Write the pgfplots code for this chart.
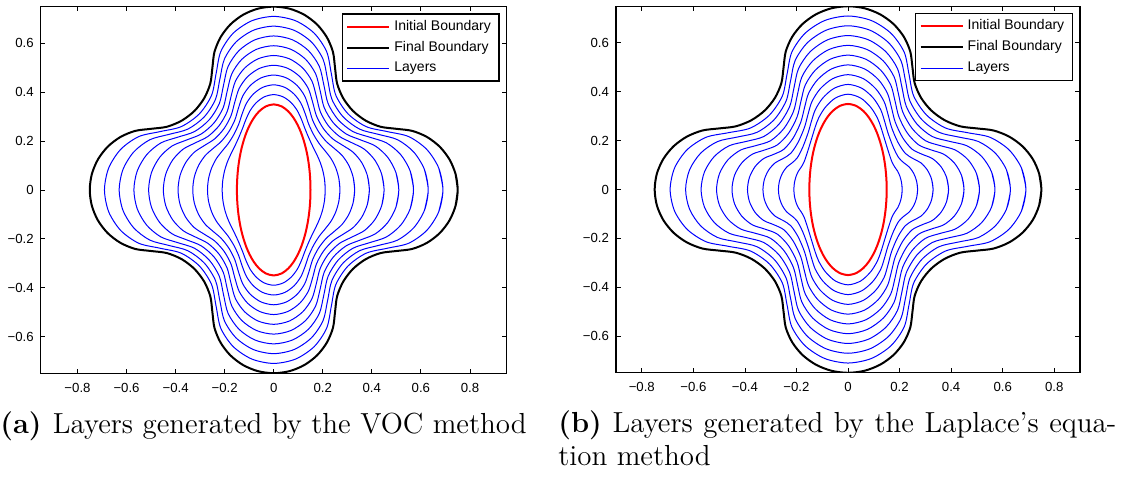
\documentclass[border=0pt]{standalone}
\usepackage{fontspec}
\usepackage{pgfplots}
\usepackage{pgfplotstable}
\pgfplotsset{compat=1.18}
\newfontfamily\arial{Liberation Sans}

% Closed curves start one point before and end one point after the point (x,0),
% so that the smooth path has no corner where it closes.

% Initial boundary: ellipse with semi-axes 0.15 and 0.35
\pgfplotstableread{
ex ey
0.1493 -0.0341
0.15 0
0.1493 0.0341
0.1471 0.0683
0.1435 0.1020
0.1383 0.1356
0.1314 0.1690
0.1224 0.2022
0.1115 0.2343
0.0979 0.2652
0.0807 0.2951
0.0597 0.3211
0.0327 0.3416
0 0.35
-0.0327 0.3416
-0.0597 0.3211
-0.0807 0.2951
-0.0979 0.2652
-0.1115 0.2343
-0.1224 0.2022
-0.1314 0.1690
-0.1383 0.1356
-0.1435 0.1020
-0.1471 0.0683
-0.1493 0.0341
-0.15 0
-0.1493 -0.0341
-0.1471 -0.0683
-0.1435 -0.1020
-0.1383 -0.1356
-0.1314 -0.1690
-0.1224 -0.2022
-0.1115 -0.2343
-0.0979 -0.2652
-0.0807 -0.2951
-0.0597 -0.3211
-0.0327 -0.3416
0 -0.35
0.0327 -0.3416
0.0597 -0.3211
0.0807 -0.2951
0.0979 -0.2652
0.1115 -0.2343
0.1224 -0.2022
0.1314 -0.1690
0.1383 -0.1356
0.1435 -0.1020
0.1471 -0.0683
0.1493 -0.0341
0.15 0
0.1493 0.0341
}\initialb

% Final boundary: four lobes of radius 0.25 joined by concave arcs
\pgfplotstableread{
fx fy
0.7415 -0.0647
0.75 0
0.7415 0.0647
0.7165 0.125
0.6768 0.1768
0.625 0.2165
0.5647 0.2415
0.5 0.25
0.4353 0.2585
0.375 0.2835
0.3232 0.3232
0.2835 0.375
0.2585 0.4353
0.25 0.5
0.2415 0.5647
0.2165 0.625
0.1768 0.6768
0.125 0.7165
0.0647 0.7415
0 0.75
-0.0647 0.7415
-0.125 0.7165
-0.1768 0.6768
-0.2165 0.625
-0.2415 0.5647
-0.25 0.5
-0.2585 0.4353
-0.2835 0.375
-0.3232 0.3232
-0.375 0.2835
-0.4353 0.2585
-0.5 0.25
-0.5647 0.2415
-0.625 0.2165
-0.6768 0.1768
-0.7165 0.125
-0.7415 0.0647
-0.75 0
-0.7415 -0.0647
-0.7165 -0.125
-0.6768 -0.1768
-0.625 -0.2165
-0.5647 -0.2415
-0.5 -0.25
-0.4353 -0.2585
-0.375 -0.2835
-0.3232 -0.3232
-0.2835 -0.375
-0.2585 -0.4353
-0.25 -0.5
-0.2415 -0.5647
-0.2165 -0.625
-0.1768 -0.6768
-0.125 -0.7165
-0.0647 -0.7415
0 -0.75
0.0647 -0.7415
0.125 -0.7165
0.1768 -0.6768
0.2165 -0.625
0.2415 -0.5647
0.25 -0.5
0.2585 -0.4353
0.2835 -0.375
0.3232 -0.3232
0.375 -0.2835
0.4353 -0.2585
0.5 -0.25
0.5647 -0.2415
0.625 -0.2165
0.6768 -0.1768
0.7165 -0.125
0.7415 -0.0647
0.75 0
0.7415 0.0647
}\finalb

% Nine layers of the VOC method: x1..x9, then y1..y9
\pgfplotstableread{
x1 x2 x3 x4 x5 x6 x7 x8 x9 y1 y2 y3 y4 y5 y6 y7 y8 y9
0.2075 0.2656 0.3238 0.3820 0.4401 0.4983 0.5565 0.6146 0.6728 -0.0403 -0.0464 -0.0526 -0.0587 -0.0649 -0.0710 -0.0772 -0.0834 -0.0895
0.21 0.27 0.33 0.39 0.45 0.51 0.57 0.63 0.69 0 0 0 0 0 0 0 0 0
0.2075 0.2656 0.3238 0.3820 0.4401 0.4983 0.5565 0.6146 0.6728 0.0403 0.0464 0.0526 0.0587 0.0649 0.0710 0.0772 0.0834 0.0895
0.2001 0.2530 0.3060 0.3589 0.4119 0.4649 0.5179 0.5708 0.6238 0.0791 0.0900 0.1008 0.1117 0.1225 0.1334 0.1442 0.1551 0.1659
0.1887 0.2339 0.2791 0.3244 0.3696 0.4148 0.4600 0.5053 0.5505 0.1149 0.1278 0.1407 0.1536 0.1665 0.1794 0.1923 0.2052 0.2181
0.1745 0.2106 0.2468 0.2830 0.3191 0.3553 0.3915 0.4277 0.4638 0.1471 0.1585 0.1699 0.1814 0.1928 0.2042 0.2157 0.2271 0.2385
0.1587 0.1860 0.2133 0.2406 0.2679 0.2952 0.3224 0.3497 0.3770 0.1790 0.1890 0.1990 0.2090 0.2190 0.2290 0.2390 0.2490 0.2590
0.1425 0.1626 0.1827 0.2028 0.2228 0.2429 0.2630 0.2831 0.3032 0.2143 0.2264 0.2385 0.2506 0.2627 0.2748 0.2869 0.2990 0.3111
0.1272 0.1430 0.1587 0.1745 0.1902 0.2060 0.2218 0.2375 0.2533 0.2513 0.2683 0.2853 0.3023 0.3193 0.3363 0.3533 0.3703 0.3873
0.1131 0.1283 0.1435 0.1587 0.1739 0.1892 0.2044 0.2196 0.2348 0.2887 0.3122 0.3356 0.3591 0.3826 0.4061 0.4296 0.4530 0.4765
0.0957 0.1107 0.1257 0.1408 0.1558 0.1708 0.1859 0.2009 0.2159 0.3252 0.3552 0.3853 0.4153 0.4454 0.4754 0.5055 0.5355 0.5656
0.0714 0.0831 0.0948 0.1065 0.1182 0.1299 0.1416 0.1534 0.1651 0.3567 0.3922 0.4278 0.4634 0.4989 0.5345 0.5700 0.6056 0.6412
0.0390 0.0453 0.0516 0.0579 0.0642 0.0705 0.0768 0.0831 0.0894 0.3805 0.4195 0.4584 0.4973 0.5363 0.5752 0.6141 0.6531 0.6920
0 0 0 0 0 0 0 0 0 0.39 0.43 0.47 0.51 0.55 0.59 0.63 0.67 0.71
-0.0390 -0.0453 -0.0516 -0.0579 -0.0642 -0.0705 -0.0768 -0.0831 -0.0894 0.3805 0.4195 0.4584 0.4973 0.5363 0.5752 0.6141 0.6531 0.6920
-0.0714 -0.0831 -0.0948 -0.1065 -0.1182 -0.1299 -0.1416 -0.1534 -0.1651 0.3567 0.3922 0.4278 0.4634 0.4989 0.5345 0.5700 0.6056 0.6412
-0.0957 -0.1107 -0.1257 -0.1408 -0.1558 -0.1708 -0.1859 -0.2009 -0.2159 0.3252 0.3552 0.3853 0.4153 0.4454 0.4754 0.5055 0.5355 0.5656
-0.1131 -0.1283 -0.1435 -0.1587 -0.1739 -0.1892 -0.2044 -0.2196 -0.2348 0.2887 0.3122 0.3356 0.3591 0.3826 0.4061 0.4296 0.4530 0.4765
-0.1272 -0.1430 -0.1587 -0.1745 -0.1902 -0.2060 -0.2218 -0.2375 -0.2533 0.2513 0.2683 0.2853 0.3023 0.3193 0.3363 0.3533 0.3703 0.3873
-0.1425 -0.1626 -0.1827 -0.2028 -0.2228 -0.2429 -0.2630 -0.2831 -0.3032 0.2143 0.2264 0.2385 0.2506 0.2627 0.2748 0.2869 0.2990 0.3111
-0.1587 -0.1860 -0.2133 -0.2406 -0.2679 -0.2952 -0.3224 -0.3497 -0.3770 0.1790 0.1890 0.1990 0.2090 0.2190 0.2290 0.2390 0.2490 0.2590
-0.1745 -0.2106 -0.2468 -0.2830 -0.3191 -0.3553 -0.3915 -0.4277 -0.4638 0.1471 0.1585 0.1699 0.1814 0.1928 0.2042 0.2157 0.2271 0.2385
-0.1887 -0.2339 -0.2791 -0.3244 -0.3696 -0.4148 -0.4600 -0.5053 -0.5505 0.1149 0.1278 0.1407 0.1536 0.1665 0.1794 0.1923 0.2052 0.2181
-0.2001 -0.2530 -0.3060 -0.3589 -0.4119 -0.4649 -0.5179 -0.5708 -0.6238 0.0791 0.0900 0.1008 0.1117 0.1225 0.1334 0.1442 0.1551 0.1659
-0.2075 -0.2656 -0.3238 -0.3820 -0.4401 -0.4983 -0.5565 -0.6146 -0.6728 0.0403 0.0464 0.0526 0.0587 0.0649 0.0710 0.0772 0.0834 0.0895
-0.21 -0.27 -0.33 -0.39 -0.45 -0.51 -0.57 -0.63 -0.69 0 0 0 0 0 0 0 0 0
-0.2075 -0.2656 -0.3238 -0.3820 -0.4401 -0.4983 -0.5565 -0.6146 -0.6728 -0.0403 -0.0464 -0.0526 -0.0587 -0.0649 -0.0710 -0.0772 -0.0834 -0.0895
-0.2001 -0.2530 -0.3060 -0.3589 -0.4119 -0.4649 -0.5179 -0.5708 -0.6238 -0.0791 -0.0900 -0.1008 -0.1117 -0.1225 -0.1334 -0.1442 -0.1551 -0.1659
-0.1887 -0.2339 -0.2791 -0.3244 -0.3696 -0.4148 -0.4600 -0.5053 -0.5505 -0.1149 -0.1278 -0.1407 -0.1536 -0.1665 -0.1794 -0.1923 -0.2052 -0.2181
-0.1745 -0.2106 -0.2468 -0.2830 -0.3191 -0.3553 -0.3915 -0.4277 -0.4638 -0.1471 -0.1585 -0.1699 -0.1814 -0.1928 -0.2042 -0.2157 -0.2271 -0.2385
-0.1587 -0.1860 -0.2133 -0.2406 -0.2679 -0.2952 -0.3224 -0.3497 -0.3770 -0.1790 -0.1890 -0.1990 -0.2090 -0.2190 -0.2290 -0.2390 -0.2490 -0.2590
-0.1425 -0.1626 -0.1827 -0.2028 -0.2228 -0.2429 -0.2630 -0.2831 -0.3032 -0.2143 -0.2264 -0.2385 -0.2506 -0.2627 -0.2748 -0.2869 -0.2990 -0.3111
-0.1272 -0.1430 -0.1587 -0.1745 -0.1902 -0.2060 -0.2218 -0.2375 -0.2533 -0.2513 -0.2683 -0.2853 -0.3023 -0.3193 -0.3363 -0.3533 -0.3703 -0.3873
-0.1131 -0.1283 -0.1435 -0.1587 -0.1739 -0.1892 -0.2044 -0.2196 -0.2348 -0.2887 -0.3122 -0.3356 -0.3591 -0.3826 -0.4061 -0.4296 -0.4530 -0.4765
-0.0957 -0.1107 -0.1257 -0.1408 -0.1558 -0.1708 -0.1859 -0.2009 -0.2159 -0.3252 -0.3552 -0.3853 -0.4153 -0.4454 -0.4754 -0.5055 -0.5355 -0.5656
-0.0714 -0.0831 -0.0948 -0.1065 -0.1182 -0.1299 -0.1416 -0.1534 -0.1651 -0.3567 -0.3922 -0.4278 -0.4634 -0.4989 -0.5345 -0.5700 -0.6056 -0.6412
-0.0390 -0.0453 -0.0516 -0.0579 -0.0642 -0.0705 -0.0768 -0.0831 -0.0894 -0.3805 -0.4195 -0.4584 -0.4973 -0.5363 -0.5752 -0.6141 -0.6531 -0.6920
0 0 0 0 0 0 0 0 0 -0.39 -0.43 -0.47 -0.51 -0.55 -0.59 -0.63 -0.67 -0.71
0.0390 0.0453 0.0516 0.0579 0.0642 0.0705 0.0768 0.0831 0.0894 -0.3805 -0.4195 -0.4584 -0.4973 -0.5363 -0.5752 -0.6141 -0.6531 -0.6920
0.0714 0.0831 0.0948 0.1065 0.1182 0.1299 0.1416 0.1534 0.1651 -0.3567 -0.3922 -0.4278 -0.4634 -0.4989 -0.5345 -0.5700 -0.6056 -0.6412
0.0957 0.1107 0.1257 0.1408 0.1558 0.1708 0.1859 0.2009 0.2159 -0.3252 -0.3552 -0.3853 -0.4153 -0.4454 -0.4754 -0.5055 -0.5355 -0.5656
0.1131 0.1283 0.1435 0.1587 0.1739 0.1892 0.2044 0.2196 0.2348 -0.2887 -0.3122 -0.3356 -0.3591 -0.3826 -0.4061 -0.4296 -0.4530 -0.4765
0.1272 0.1430 0.1587 0.1745 0.1902 0.2060 0.2218 0.2375 0.2533 -0.2513 -0.2683 -0.2853 -0.3023 -0.3193 -0.3363 -0.3533 -0.3703 -0.3873
0.1425 0.1626 0.1827 0.2028 0.2228 0.2429 0.2630 0.2831 0.3032 -0.2143 -0.2264 -0.2385 -0.2506 -0.2627 -0.2748 -0.2869 -0.2990 -0.3111
0.1587 0.1860 0.2133 0.2406 0.2679 0.2952 0.3224 0.3497 0.3770 -0.1790 -0.1890 -0.1990 -0.2090 -0.2190 -0.2290 -0.2390 -0.2490 -0.2590
0.1745 0.2106 0.2468 0.2830 0.3191 0.3553 0.3915 0.4277 0.4638 -0.1471 -0.1585 -0.1699 -0.1814 -0.1928 -0.2042 -0.2157 -0.2271 -0.2385
0.1887 0.2339 0.2791 0.3244 0.3696 0.4148 0.4600 0.5053 0.5505 -0.1149 -0.1278 -0.1407 -0.1536 -0.1665 -0.1794 -0.1923 -0.2052 -0.2181
0.2001 0.2530 0.3060 0.3589 0.4119 0.4649 0.5179 0.5708 0.6238 -0.0791 -0.0900 -0.1008 -0.1117 -0.1225 -0.1334 -0.1442 -0.1551 -0.1659
0.2075 0.2656 0.3238 0.3820 0.4401 0.4983 0.5565 0.6146 0.6728 -0.0403 -0.0464 -0.0526 -0.0587 -0.0649 -0.0710 -0.0772 -0.0834 -0.0895
0.21 0.27 0.33 0.39 0.45 0.51 0.57 0.63 0.69 0 0 0 0 0 0 0 0 0
0.2075 0.2656 0.3238 0.3820 0.4401 0.4983 0.5565 0.6146 0.6728 0.0403 0.0464 0.0526 0.0587 0.0649 0.0710 0.0772 0.0834 0.0895
}\voclayers

% Nine layers of the Laplace's equation method: x1..x9, then y1..y9
\pgfplotstableread{
x1 x2 x3 x4 x5 x6 x7 x8 x9 y1 y2 y3 y4 y5 y6 y7 y8 y9
0.2079 0.2660 0.3241 0.3822 0.4404 0.4985 0.5566 0.6147 0.6728 -0.0272 -0.0348 -0.0424 -0.0500 -0.0576 -0.0652 -0.0728 -0.0805 -0.0881
0.21 0.27 0.33 0.39 0.45 0.51 0.57 0.63 0.69 0 0 0 0 0 0 0 0 0
0.2079 0.2660 0.3241 0.3822 0.4404 0.4985 0.5566 0.6147 0.6728 0.0272 0.0348 0.0424 0.0500 0.0576 0.0652 0.0728 0.0805 0.0881
0.2018 0.2546 0.3074 0.3602 0.4129 0.4657 0.5185 0.5712 0.6240 0.0527 0.0665 0.0803 0.0941 0.1079 0.1216 0.1354 0.1492 0.1630
0.1927 0.2375 0.2823 0.3270 0.3718 0.4166 0.4614 0.5061 0.5509 0.0747 0.0921 0.1095 0.1268 0.1442 0.1615 0.1789 0.1963 0.2136
0.1820 0.2173 0.2527 0.2880 0.3233 0.3587 0.3940 0.4293 0.4647 0.0910 0.1087 0.1263 0.1440 0.1617 0.1793 0.1970 0.2147 0.2323
0.1703 0.1963 0.2223 0.2483 0.2743 0.3003 0.3263 0.3523 0.3783 0.1133 0.1306 0.1479 0.1652 0.1825 0.1998 0.2171 0.2344 0.2517
0.1564 0.1749 0.1935 0.2120 0.2305 0.2491 0.2676 0.2862 0.3047 0.1564 0.1749 0.1935 0.2120 0.2305 0.2491 0.2676 0.2862 0.3047
0.1404 0.1547 0.1690 0.1833 0.1976 0.2119 0.2262 0.2405 0.2547 0.2110 0.2325 0.2540 0.2754 0.2969 0.3184 0.3399 0.3614 0.3828
0.1275 0.1411 0.1547 0.1683 0.1820 0.1956 0.2092 0.2228 0.2364 0.2550 0.2822 0.3094 0.3367 0.3639 0.3911 0.4183 0.4456 0.4728
0.1137 0.1267 0.1397 0.1528 0.1658 0.1788 0.1919 0.2049 0.2179 0.2932 0.3268 0.3604 0.3940 0.4276 0.4612 0.4948 0.5285 0.5621
0.0879 0.0978 0.1077 0.1176 0.1274 0.1373 0.1472 0.1570 0.1669 0.3366 0.3744 0.4122 0.4500 0.4878 0.5256 0.5634 0.6012 0.6390
0.0490 0.0542 0.0594 0.0646 0.0697 0.0749 0.0801 0.0853 0.0905 0.3744 0.4140 0.4536 0.4932 0.5329 0.5725 0.6121 0.6517 0.6914
0 0 0 0 0 0 0 0 0 0.39 0.43 0.47 0.51 0.55 0.59 0.63 0.67 0.71
-0.0490 -0.0542 -0.0594 -0.0646 -0.0697 -0.0749 -0.0801 -0.0853 -0.0905 0.3744 0.4140 0.4536 0.4932 0.5329 0.5725 0.6121 0.6517 0.6914
-0.0879 -0.0978 -0.1077 -0.1176 -0.1274 -0.1373 -0.1472 -0.1570 -0.1669 0.3366 0.3744 0.4122 0.4500 0.4878 0.5256 0.5634 0.6012 0.6390
-0.1137 -0.1267 -0.1397 -0.1528 -0.1658 -0.1788 -0.1919 -0.2049 -0.2179 0.2932 0.3268 0.3604 0.3940 0.4276 0.4612 0.4948 0.5285 0.5621
-0.1275 -0.1411 -0.1547 -0.1683 -0.1820 -0.1956 -0.2092 -0.2228 -0.2364 0.2550 0.2822 0.3094 0.3367 0.3639 0.3911 0.4183 0.4456 0.4728
-0.1404 -0.1547 -0.1690 -0.1833 -0.1976 -0.2119 -0.2262 -0.2405 -0.2547 0.2110 0.2325 0.2540 0.2754 0.2969 0.3184 0.3399 0.3614 0.3828
-0.1564 -0.1749 -0.1935 -0.2120 -0.2305 -0.2491 -0.2676 -0.2862 -0.3047 0.1564 0.1749 0.1935 0.2120 0.2305 0.2491 0.2676 0.2862 0.3047
-0.1703 -0.1963 -0.2223 -0.2483 -0.2743 -0.3003 -0.3263 -0.3523 -0.3783 0.1133 0.1306 0.1479 0.1652 0.1825 0.1998 0.2171 0.2344 0.2517
-0.1820 -0.2173 -0.2527 -0.2880 -0.3233 -0.3587 -0.3940 -0.4293 -0.4647 0.0910 0.1087 0.1263 0.1440 0.1617 0.1793 0.1970 0.2147 0.2323
-0.1927 -0.2375 -0.2823 -0.3270 -0.3718 -0.4166 -0.4614 -0.5061 -0.5509 0.0747 0.0921 0.1095 0.1268 0.1442 0.1615 0.1789 0.1963 0.2136
-0.2018 -0.2546 -0.3074 -0.3602 -0.4129 -0.4657 -0.5185 -0.5712 -0.6240 0.0527 0.0665 0.0803 0.0941 0.1079 0.1216 0.1354 0.1492 0.1630
-0.2079 -0.2660 -0.3241 -0.3822 -0.4404 -0.4985 -0.5566 -0.6147 -0.6728 0.0272 0.0348 0.0424 0.0500 0.0576 0.0652 0.0728 0.0805 0.0881
-0.21 -0.27 -0.33 -0.39 -0.45 -0.51 -0.57 -0.63 -0.69 0 0 0 0 0 0 0 0 0
-0.2079 -0.2660 -0.3241 -0.3822 -0.4404 -0.4985 -0.5566 -0.6147 -0.6728 -0.0272 -0.0348 -0.0424 -0.0500 -0.0576 -0.0652 -0.0728 -0.0805 -0.0881
-0.2018 -0.2546 -0.3074 -0.3602 -0.4129 -0.4657 -0.5185 -0.5712 -0.6240 -0.0527 -0.0665 -0.0803 -0.0941 -0.1079 -0.1216 -0.1354 -0.1492 -0.1630
-0.1927 -0.2375 -0.2823 -0.3270 -0.3718 -0.4166 -0.4614 -0.5061 -0.5509 -0.0747 -0.0921 -0.1095 -0.1268 -0.1442 -0.1615 -0.1789 -0.1963 -0.2136
-0.1820 -0.2173 -0.2527 -0.2880 -0.3233 -0.3587 -0.3940 -0.4293 -0.4647 -0.0910 -0.1087 -0.1263 -0.1440 -0.1617 -0.1793 -0.1970 -0.2147 -0.2323
-0.1703 -0.1963 -0.2223 -0.2483 -0.2743 -0.3003 -0.3263 -0.3523 -0.3783 -0.1133 -0.1306 -0.1479 -0.1652 -0.1825 -0.1998 -0.2171 -0.2344 -0.2517
-0.1564 -0.1749 -0.1935 -0.2120 -0.2305 -0.2491 -0.2676 -0.2862 -0.3047 -0.1564 -0.1749 -0.1935 -0.2120 -0.2305 -0.2491 -0.2676 -0.2862 -0.3047
-0.1404 -0.1547 -0.1690 -0.1833 -0.1976 -0.2119 -0.2262 -0.2405 -0.2547 -0.2110 -0.2325 -0.2540 -0.2754 -0.2969 -0.3184 -0.3399 -0.3614 -0.3828
-0.1275 -0.1411 -0.1547 -0.1683 -0.1820 -0.1956 -0.2092 -0.2228 -0.2364 -0.2550 -0.2822 -0.3094 -0.3367 -0.3639 -0.3911 -0.4183 -0.4456 -0.4728
-0.1137 -0.1267 -0.1397 -0.1528 -0.1658 -0.1788 -0.1919 -0.2049 -0.2179 -0.2932 -0.3268 -0.3604 -0.3940 -0.4276 -0.4612 -0.4948 -0.5285 -0.5621
-0.0879 -0.0978 -0.1077 -0.1176 -0.1274 -0.1373 -0.1472 -0.1570 -0.1669 -0.3366 -0.3744 -0.4122 -0.4500 -0.4878 -0.5256 -0.5634 -0.6012 -0.6390
-0.0490 -0.0542 -0.0594 -0.0646 -0.0697 -0.0749 -0.0801 -0.0853 -0.0905 -0.3744 -0.4140 -0.4536 -0.4932 -0.5329 -0.5725 -0.6121 -0.6517 -0.6914
0 0 0 0 0 0 0 0 0 -0.39 -0.43 -0.47 -0.51 -0.55 -0.59 -0.63 -0.67 -0.71
0.0490 0.0542 0.0594 0.0646 0.0697 0.0749 0.0801 0.0853 0.0905 -0.3744 -0.4140 -0.4536 -0.4932 -0.5329 -0.5725 -0.6121 -0.6517 -0.6914
0.0879 0.0978 0.1077 0.1176 0.1274 0.1373 0.1472 0.1570 0.1669 -0.3366 -0.3744 -0.4122 -0.4500 -0.4878 -0.5256 -0.5634 -0.6012 -0.6390
0.1137 0.1267 0.1397 0.1528 0.1658 0.1788 0.1919 0.2049 0.2179 -0.2932 -0.3268 -0.3604 -0.3940 -0.4276 -0.4612 -0.4948 -0.5285 -0.5621
0.1275 0.1411 0.1547 0.1683 0.1820 0.1956 0.2092 0.2228 0.2364 -0.2550 -0.2822 -0.3094 -0.3367 -0.3639 -0.3911 -0.4183 -0.4456 -0.4728
0.1404 0.1547 0.1690 0.1833 0.1976 0.2119 0.2262 0.2405 0.2547 -0.2110 -0.2325 -0.2540 -0.2754 -0.2969 -0.3184 -0.3399 -0.3614 -0.3828
0.1564 0.1749 0.1935 0.2120 0.2305 0.2491 0.2676 0.2862 0.3047 -0.1564 -0.1749 -0.1935 -0.2120 -0.2305 -0.2491 -0.2676 -0.2862 -0.3047
0.1703 0.1963 0.2223 0.2483 0.2743 0.3003 0.3263 0.3523 0.3783 -0.1133 -0.1306 -0.1479 -0.1652 -0.1825 -0.1998 -0.2171 -0.2344 -0.2517
0.1820 0.2173 0.2527 0.2880 0.3233 0.3587 0.3940 0.4293 0.4647 -0.0910 -0.1087 -0.1263 -0.1440 -0.1617 -0.1793 -0.1970 -0.2147 -0.2323
0.1927 0.2375 0.2823 0.3270 0.3718 0.4166 0.4614 0.5061 0.5509 -0.0747 -0.0921 -0.1095 -0.1268 -0.1442 -0.1615 -0.1789 -0.1963 -0.2136
0.2018 0.2546 0.3074 0.3602 0.4129 0.4657 0.5185 0.5712 0.6240 -0.0527 -0.0665 -0.0803 -0.0941 -0.1079 -0.1216 -0.1354 -0.1492 -0.1630
0.2079 0.2660 0.3241 0.3822 0.4404 0.4985 0.5566 0.6147 0.6728 -0.0272 -0.0348 -0.0424 -0.0500 -0.0576 -0.0652 -0.0728 -0.0805 -0.0881
0.21 0.27 0.33 0.39 0.45 0.51 0.57 0.63 0.69 0 0 0 0 0 0 0 0 0
0.2079 0.2660 0.3241 0.3822 0.4404 0.4985 0.5566 0.6147 0.6728 0.0272 0.0348 0.0424 0.0500 0.0576 0.0652 0.0728 0.0805 0.0881
}\laplayers

\pgfplotsset{
  panel/.style={
    scale only axis, anchor=south west,
    height=183.3pt,
    ymin=-0.75, ymax=0.75,
    xtick={-0.8,-0.6,-0.4,-0.2,0,0.2,0.4,0.6,0.8},
    xticklabels={−0.8,−0.6,−0.4,−0.2,0,0.2,0.4,0.6,0.8},
    ytick={-0.6,-0.4,-0.2,0,0.2,0.4,0.6},
    yticklabels={−0.6,−0.4,−0.2,0,0.2,0.4,0.6},
    tick align=inside, tick pos=both,
    xticklabel pos=lower, yticklabel pos=left,
    major tick length=2.3pt,
    tick style={black, line width=0.4pt},
    axis line style={line width=0.6pt},
    ticklabel style={font=\arial\fontsize{6.6}{7.9}\selectfont},
    xticklabel style={yshift=-1.4pt},
    legend style={at={(1,1)}, anchor=north east, xshift=-3.6pt, yshift=-3.4pt,
      font=\arial\fontsize{7}{8.4}\selectfont, draw=black, line width=0.6pt,
      inner xsep=2pt, inner ysep=1pt, cells={anchor=west}},
    legend image code/.code={\draw[#1] (0pt,0pt) -- (21pt,0pt);},
  },
  layer/.style={blue, line width=0.5pt, smooth},
  initial/.style={red, line width=1pt, smooth},
  final/.style={black, line width=1pt, smooth},
}

\begin{document}
\begin{tikzpicture}
\path[use as bounding box] (0pt,0pt) rectangle (563.5pt,238.5pt);

% (a) VOC method
\begin{axis}[panel, at={(20.35pt,51.9pt)}, width=233pt, xmin=-0.95, xmax=0.95]
\pgfplotsinvokeforeach{1,...,9}{
  \addplot[layer, forget plot] table[x=x#1, y=y#1] {\voclayers};
}
\addplot[initial] table[x=ex, y=ey] {\initialb};
\addplot[final] table[x=fx, y=fy] {\finalb};
\addlegendimage{blue, line width=0.5pt}
\legend{Initial Boundary, Final Boundary, Layers}
\end{axis}

% (b) Laplace's equation method
\begin{axis}[panel, at={(308pt,52.1pt)}, width=232pt, xmin=-0.9, xmax=0.9]
\pgfplotsinvokeforeach{1,...,9}{
  \addplot[layer, forget plot] table[x=x#1, y=y#1] {\laplayers};
}
\addplot[initial] table[x=ex, y=ey] {\initialb};
\addplot[final] table[x=fx, y=fy] {\finalb};
\addlegendimage{blue, line width=0.5pt}
\legend{Initial Boundary, Final Boundary, Layers}
\end{axis}

% sub-captions
\node[anchor=base west, inner sep=0pt, font=\fontsize{14.5}{16.5}\selectfont]
  at (0pt,21.8pt) {\textbf{(a)}\hspace{5.6pt}Layers generated by the VOC method};
\node[anchor=base west, inner sep=0pt, font=\fontsize{14.5}{16.5}\selectfont]
  at (279pt,22.3pt) {\makebox[279pt][s]{\textbf{(b)} Layers generated by the Laplace's equa-}};
\node[anchor=base west, inner sep=0pt, font=\fontsize{14.5}{16.5}\selectfont]
  at (279pt,5.8pt) {tion method};
\end{tikzpicture}
\end{document}
